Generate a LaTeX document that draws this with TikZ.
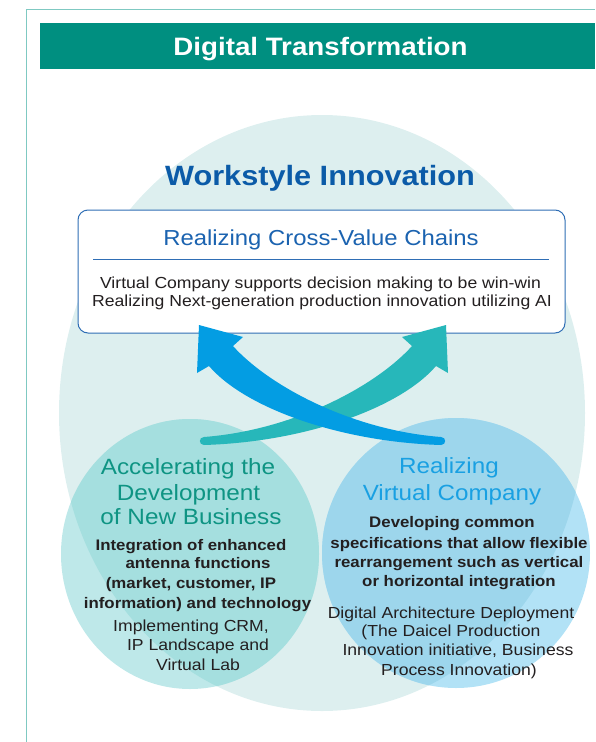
\documentclass[tikz,border=0pt]{standalone}
\usepackage{fontspec}
\setmainfont[FakeStretch=1.1]{Liberation Sans}
\definecolor{frameC}{HTML}{7FC9C2}
\definecolor{hdrC}{HTML}{008F80}
\definecolor{bigC}{HTML}{DDEFEF}
\definecolor{lInC}{HTML}{A5DFDF}
\definecolor{lOutC}{HTML}{BEE8E9}
\definecolor{rInC}{HTML}{9DD6EC}
\definecolor{rOutC}{HTML}{B2E2F6}
\definecolor{arrB}{HTML}{039DE3}
\definecolor{arrT}{HTML}{27B7BA}
\definecolor{boxC}{HTML}{2F6EB5}
\definecolor{ttlBox}{HTML}{1B63B0}
\definecolor{wsC}{HTML}{0B5BA8}
\definecolor{ttlL}{HTML}{0E9483}
\definecolor{ttlR}{HTML}{19A0E2}
\definecolor{bodyC}{HTML}{231F20}
\tikzset{
  lbl/.style={inner sep=0pt, anchor=base},
  ttlLeft/.style={lbl, text=ttlL, font=\fontsize{22.1}{25}\selectfont},
  ttlRight/.style={lbl, text=ttlR, font=\fontsize{22}{25}\selectfont},
  boldbody/.style={lbl, text=bodyC, font=\bfseries\fontsize{15.3}{19}\selectfont},
  regbody/.style={lbl, text=bodyC, font=\fontsize{16}{19}\selectfont},
}
\begin{document}
\begin{tikzpicture}[x=1pt,y=-1pt]
\useasboundingbox (0,0) rectangle (595,742);
% frame
\draw[frameC, line width=1.3pt] (26.7,742) -- (26.7,9.3) -- (595,9.3);
% header
\fill[hdrC] (40,22.7) rectangle (595,69.3);
\node[lbl, text=white, font=\bfseries\fontsize{25.2}{30}\selectfont] (hdr) at (320.5,55) {Digital Transformation};
% big ellipse
\fill[bigC] (322,413) ellipse [x radius=263pt, y radius=298pt];
% left circle
\fill[lOutC] (190,554) ellipse [x radius=129pt, y radius=135pt];
\begin{scope}
  \clip (322,413) ellipse [x radius=263pt, y radius=298pt];
  \fill[lInC] (190,554) ellipse [x radius=129pt, y radius=135pt];
\end{scope}
% right circle
\fill[rOutC] (456,553) ellipse [x radius=134pt, y radius=135pt];
\begin{scope}
  \clip (322,413) ellipse [x radius=263pt, y radius=298pt];
  \fill[rInC] (456,553) ellipse [x radius=134pt, y radius=135pt];
\end{scope}
% workstyle
\node[lbl, text=wsC, font=\bfseries\fontsize{27.9}{32}\selectfont] (ws) at (320,185) {Workstyle Innovation};
% box
\node[draw=boxC, line width=1pt, fill=white, rounded corners=10pt, minimum width=487pt, minimum height=123pt, inner sep=0pt] (box) at (321.5,271.5) {};
\node[lbl, text=ttlBox, font=\fontsize{21.7}{25}\selectfont] (boxttl) at (321,245) {Realizing Cross-Value Chains};
\coordinate (ruleL) at (93,259);
\coordinate (ruleR) at (549,259);
\draw[boxC, line width=1pt] (ruleL) -- (ruleR);
\node[lbl, text=bodyC, font=\fontsize{16}{19}\selectfont] (boxl1) at (320.5,288.3) {Virtual Company supports decision making to be win-win};
\node[lbl, text=bodyC, font=\fontsize{16}{19}\selectfont] (boxl2) at (322,306.7) {Realizing Next-generation production innovation utilizing AI};
% teal arrow (under)
\fill[arrT] (446,325) -- (402,337) -- (412,346)
  .. controls (377,385) and (295,430) .. (204,437)
  .. controls (198.5,437) and (198.5,445) .. (204,445)
  .. controls (305,442) and (400,408) .. (436,366)
  -- (448,373) -- cycle;
% blue arrow (over)
\fill[arrB] (199,325) -- (243,337) -- (233,346)
  .. controls (268,385) and (350,430) .. (441,437)
  .. controls (446.5,437) and (446.5,445) .. (441,445)
  .. controls (340,442) and (245,408) .. (209,366)
  -- (197,373) -- cycle;
% left texts
\node[ttlLeft] (lt1) at (188,474.3) {Accelerating the};
\node[ttlLeft] (lt2) at (188.5,500) {Development};
\node[ttlLeft] (lt3) at (191,524) {of New Business};
\node[boldbody] (lb1) at (191,550) {Integration of enhanced};
\node[boldbody] (lb2) at (198,568.3) {antenna functions};
\node[boldbody] (lb3) at (191,588.3) {(market, customer, IP};
\node[boldbody] (lb4) at (197.5,608.3) {information) and technology};
\node[regbody] (lr1) at (191,631.7) {Implementing CRM,};
\node[regbody] (lr2) at (198,650.7) {IP Landscape and};
\node[regbody] (lr3) at (198,670) {Virtual Lab};
% right texts
\node[ttlRight] (rt1) at (449,473.3) {Realizing};
\node[ttlRight] (rt2) at (452,500) {Virtual Company};
\node[boldbody] (rb1) at (452,527.3) {Developing common};
\node[boldbody] (rb2) at (459,548.3) {specifications that allow flexible};
\node[boldbody] (rb3) at (459,567.3) {rearrangement such as vertical};
\node[boldbody] (rb4) at (459,586.7) {or horizontal integration};
\node[regbody] (rr1) at (451,618.3) {Digital Architecture Deployment};
\node[regbody] (rr2) at (451,636.7) {(The Daicel Production};
\node[regbody] (rr3) at (458,655.7) {Innovation initiative, Business};
\node[regbody] (rr4) at (459,675) {Process Innovation)};
\end{tikzpicture}
\end{document}
